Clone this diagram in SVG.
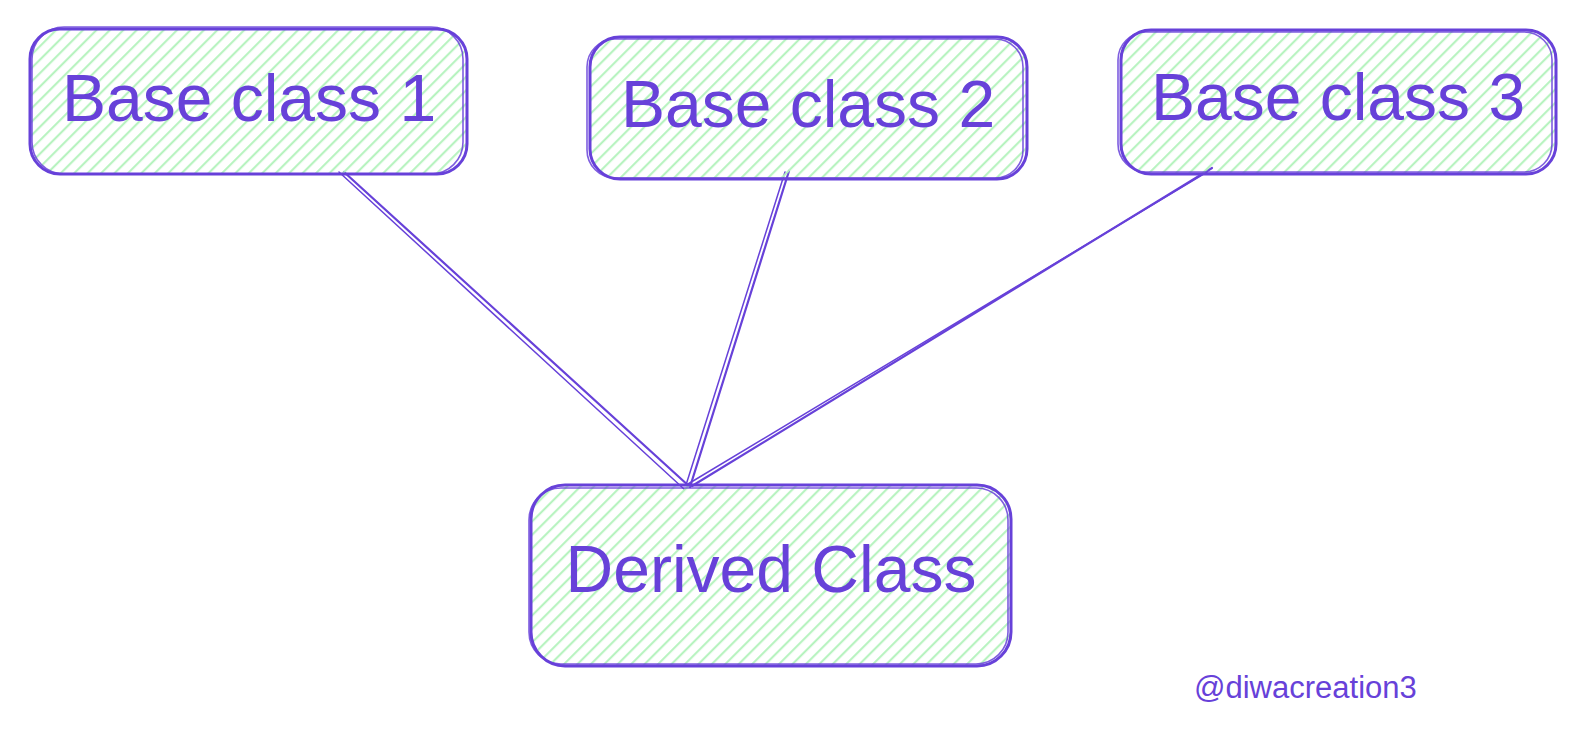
<svg xmlns="http://www.w3.org/2000/svg" width="1587" height="743" viewBox="0 0 1587 743">
  <defs>
    <!-- diagonal hachure fill -->
    <pattern id="hachure" width="9.5" height="9.5" patternUnits="userSpaceOnUse" patternTransform="rotate(45)">
      <line x1="4" y1="0" x2="4" y2="9.5" stroke="#b2f2bb" stroke-width="2"/>
    </pattern>
  </defs>
  <style>
    .box { fill: url(#hachure); stroke: #6741d9; stroke-width: 3; }
    .box2 { fill: none; stroke: #6741d9; stroke-width: 1.6; opacity: 0.85; }
    .label { font-family: "Liberation Sans", "DejaVu Sans", sans-serif; font-size: 66px; fill: #6741d9; text-anchor: middle; }
    .edge { stroke: #6741d9; stroke-width: 2.2; fill: none; stroke-linecap: round; }
    .edge2 { stroke: #6741d9; stroke-width: 1.5; fill: none; stroke-linecap: round; }
    .sig { font-family: "Liberation Sans", "DejaVu Sans", sans-serif; font-size: 31px; fill: #6741d9; }
  </style>
  <rect width="1587" height="743" fill="#ffffff"/>

  <g id="connectors">
    <line class="edge" x1="344" y1="172" x2="690" y2="487"/>
    <line class="edge2" x1="339" y1="172" x2="684" y2="489"/>
    <line class="edge" x1="789" y1="171" x2="690" y2="487"/>
    <line class="edge2" x1="785" y1="172" x2="686" y2="485"/>
    <line class="edge" x1="1212" y1="168" x2="692" y2="486"/>
    <line class="edge2" x1="1207" y1="172" x2="688" y2="484"/>
  </g>

  <g id="base1">
    <rect class="box" x="30" y="29" width="437" height="145" rx="30"/>
    <rect class="box2" x="32" y="27" width="431" height="147" rx="32"/>
    <text class="label" x="249" y="121">Base class 1</text>
  </g>

  <g id="base2">
    <rect class="box" x="590" y="37" width="437" height="142" rx="30"/>
    <rect class="box2" x="587" y="39" width="436" height="139" rx="28"/>
    <text class="label" x="808" y="127">Base class 2</text>
  </g>

  <g id="base3">
    <rect class="box" x="1121" y="30" width="435" height="144" rx="30"/>
    <rect class="box2" x="1118" y="32" width="434" height="140" rx="28"/>
    <text class="label" x="1338" y="120">Base class 3</text>
  </g>

  <g id="derived">
    <rect class="box" x="531" y="485" width="480" height="181" rx="34"/>
    <rect class="box2" x="529" y="488" width="479" height="176" rx="32"/>
    <text class="label" x="771" y="592">Derived Class</text>
  </g>

  <text class="sig" x="1194" y="698">@diwacreation3</text>
</svg>
